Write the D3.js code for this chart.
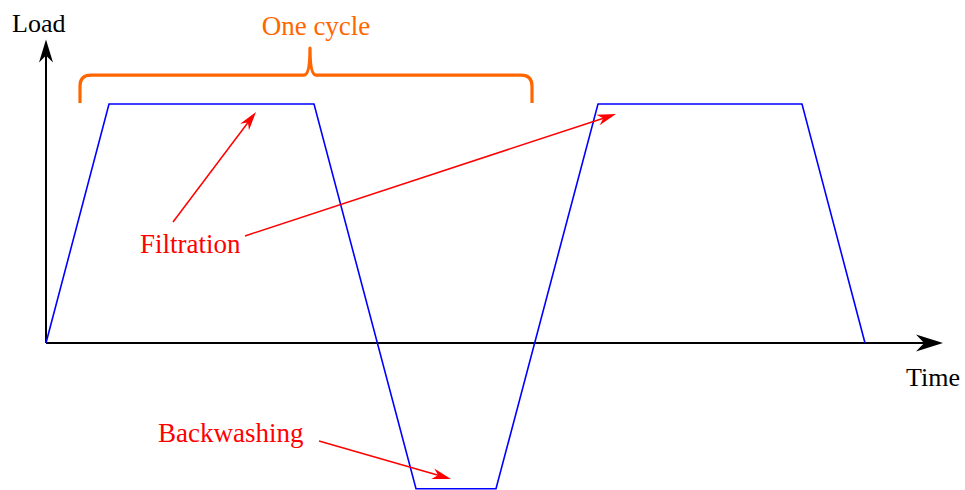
<!DOCTYPE html>
<html>
<head>
<meta charset="utf-8">
<script src="https://cdn.jsdelivr.net/npm/d3@7"></script>
<style>
  html, body { margin: 0; padding: 0; background: #fff; }
  svg { display: block; }
</style>
</head>
<body>
<script>
// ---- data (time units, load units) ----
const times = [0, 6.3, 26.8, 37.0, 45.0, 55.2, 75.6, 81.9];
const loads = [0, 1, 1, -0.61, -0.61, 1, 1, 0];
const axisTimeMax = 89.7;
const axisLoadMax = 1.27;

// annotation arrows: [fromTime, fromLoad, toTime, toLoad]
const filtrationArrow1 = [12.7, 0.506, 21.0, 0.967];
const filtrationArrow2 = [19.9, 0.448, 57.0, 0.958];
const backwashArrow = [27.3, -0.41, 40.5, -0.569];
// brace: [startTime, endTime, tipTime, endLoad, barLoad, tipLoad]
const cycleBrace = [3.4, 48.6, 26.4, 1.004, 1.121, 1.234];

const labels = {
  yTitle: "Load", xTitle: "Time", cycle: "One cycle",
  filtration: "Filtration", backwash: "Backwashing"
};

const FONT = "'Liberation Serif', 'Times New Roman', 'DejaVu Serif', serif";

const W = 965, H = 490;
const x = d3.scaleLinear().domain([0, axisTimeMax]).range([46, 943]);
const y = d3.scaleLinear().domain([0, 1]).range([343, 104]);

const svg = d3.select("body").append("svg").attr("width", W).attr("height", H);

// stealth arrowhead path, tip at origin pointing +x
function headPath(L, w, notch) {
  return `M0,0 L${-L},${-w/2} L${-L*notch},0 L${-L},${w/2} Z`;
}
function drawArrow(g, x0, y0, x1, y1, color, sw, L, w, notch) {
  const ang = Math.atan2(y1 - y0, x1 - x0);
  const bx = x1 - Math.cos(ang) * L * notch;
  const by = y1 - Math.sin(ang) * L * notch;
  g.append("line").attr("x1", x0).attr("y1", y0).attr("x2", bx).attr("y2", by)
    .attr("stroke", color).attr("stroke-width", sw);
  g.append("path").attr("d", headPath(L, w, notch))
    .attr("transform", `translate(${x1},${y1}) rotate(${ang * 180 / Math.PI})`)
    .attr("fill", color);
}

// axes
const axes = svg.append("g");
drawArrow(axes, x(0), y(0), x(axisTimeMax), y(0), "#000", 2, 27, 17, 0.7);
drawArrow(axes, x(0), y(0), x(0), y(axisLoadMax), "#000", 2, 23, 14, 0.7);

// series
const line = d3.line().x(d => x(d[0])).y(d => y(d[1]));
svg.append("path")
  .datum(times.map((t, i) => [t, loads[i]]))
  .attr("d", line)
  .attr("fill", "none")
  .attr("stroke", "#0000FF")
  .attr("stroke-width", 1.6)
  .attr("stroke-linejoin", "miter");

// brace
(function () {
  const [t0, t1, tm, le, lb, lt] = cycleBrace;
  const x0 = x(t0), x1 = x(t1), xm = x(tm);
  const ye = y(le), yb = y(lb), yt = y(lt);
  const r = 11, rm = 6;
  const p = d3.path();
  p.moveTo(x0, ye);
  p.lineTo(x0, yb + r);
  p.quadraticCurveTo(x0, yb, x0 + r, yb);
  p.lineTo(xm - rm, yb);
  p.quadraticCurveTo(xm, yb, xm, yt);
  p.quadraticCurveTo(xm, yb, xm + rm, yb);
  p.lineTo(x1 - r, yb);
  p.quadraticCurveTo(x1, yb, x1, yb + r);
  p.lineTo(x1, ye);
  svg.append("path").attr("d", p.toString())
    .attr("fill", "none").attr("stroke", "#FF6600").attr("stroke-width", 3.2)
    .attr("stroke-linejoin", "round");
})();

// annotation arrows
const ann = svg.append("g");
[filtrationArrow1, filtrationArrow2, backwashArrow].forEach(a => {
  drawArrow(ann, x(a[0]), y(a[1]), x(a[2]), y(a[3]), "#FF0000", 1.5, 19, 11, 0.7);
});

// text
function label(xp, yp, size, color, txt, anchor) {
  svg.append("text").attr("x", xp).attr("y", yp)
    .attr("font-family", FONT).attr("font-size", size)
    .attr("text-anchor", anchor || "start")
    .attr("fill", color).text(txt);
}
label(12, 32, 26, "#000", labels.yTitle);
label(906, 386, 26, "#000", labels.xTitle);
label(316, 35, 27, "#FF6600", labels.cycle, "middle");
label(140, 253, 27, "#FF0000", labels.filtration);
label(158, 442, 27, "#FF0000", labels.backwash);
</script>
</body>
</html>
